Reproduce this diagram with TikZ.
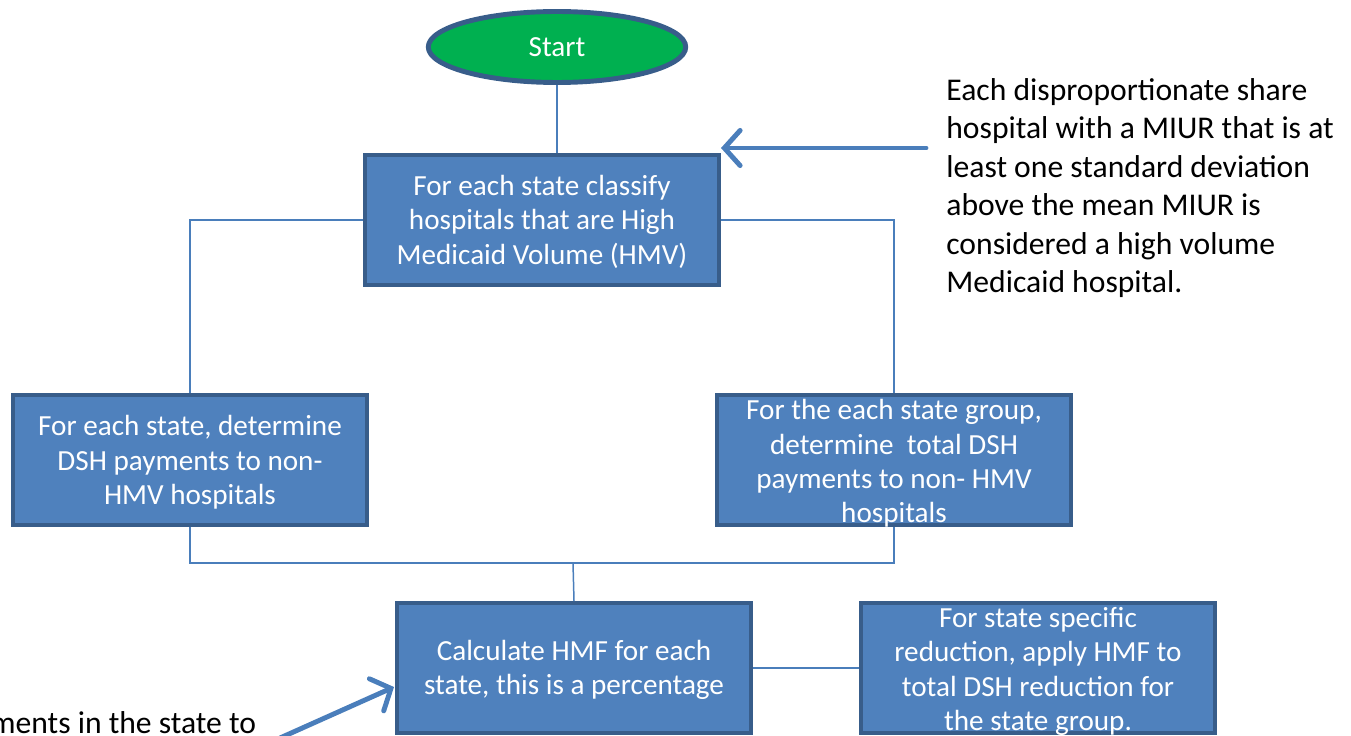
\documentclass[tikz,border=0pt]{standalone}
\usepackage{fontspec}
\setmainfont{Carlito}
\usetikzlibrary{arrows.meta,shapes.geometric}
\definecolor{boxfill}{HTML}{4F81BD}
\definecolor{boxline}{HTML}{385D8A}
\definecolor{startgreen}{HTML}{00B050}
\definecolor{conn}{HTML}{4A7EBB}
\tikzset{
  stepbox/.style={draw=boxline, line width=2.2pt, fill=boxfill, rectangle, minimum width=7.08cm, minimum height=2.6cm, inner sep=0pt},
  boxtext/.style={text=white, align=center, font=\fontsize{16.6}{19.6}\selectfont, inner sep=0pt},
  conline/.style={draw=conn, line width=0.85pt},
  bigarrow/.style={draw=conn, line width=2.8pt, line cap=round, -{Straight Barb[length=9pt, width=20pt, line cap=round]}},
  note/.style={text=black, align=left, anchor=north west, inner sep=0pt, font=\fontsize{18}{21.9}\selectfont}
}
\begin{document}
\begin{tikzpicture}[x=0.02cm, y=-0.02cm]
\useasboundingbox (0,0) rectangle (1351,736);
\begin{scope}
\clip (0,0) rectangle (1351,736);
% start
\node[ellipse, draw=boxline, line width=2.8pt, fill=startgreen, minimum width=5.15cm, minimum height=1.42cm, text=white, font=\fontsize{16.6}{19.6}\selectfont] (start) at (557,47) {Start};
% boxes
\node[stepbox] (b1) at (542,220) {};
\node[boxtext] (t1) at ([yshift=-1pt]b1.center) {For each state classify\\hospitals that are High\\Medicaid Volume (HMV)};
\node[stepbox] (b2) at (190,460) {};
\node[boxtext] (t2) at ([yshift=-1.5pt]b2.center) {For each state, determine\\DSH payments to non-\\HMV hospitals};
\node[stepbox] (b3) at (894,460) {};
\node[boxtext] (t3) at ([yshift=-2pt]b3.center) {For the each state group,\\determine\ \ total DSH\\payments to non- HMV\\hospitals};
\node[stepbox] (b4) at (574,668) {};
\node[boxtext] (t4) at ([yshift=-1pt]b4.center) {Calculate HMF for each\\state, this is a percentage};
\node[stepbox] (b5) at (1038,668) {};
\node[boxtext] (t5) at ([yshift=-2pt]b5.center) {For state specific\\reduction, apply HMF to\\total DSH reduction for\\the state group.};
% connectors
\coordinate (j) at (573,563);
\draw[conline] (start.south) -- (start.south |- b1.north);
\draw[conline] (b1.west) -| (b2.north);
\draw[conline] (b1.east) -| (b3.north);
\draw[conline] (b2.south) |- (j) -| (b3.south);
\draw[conline] (j) -- (b4.north);
\draw[conline] (b4.east) -- (b5.west);
% note
\node[note] (n1) at (946,78) {Each disproportionate share\\hospital with a MIUR that is at\\least one standard deviation\\above the mean MIUR is\\considered a high volume\\Medicaid hospital.};
\coordinate (a1s) at (926,148);
\coordinate (a1e) at (721,148);
\draw[bigarrow] (a1s) -- (a1e);
\node[note, anchor=base west] (n2) at (-10,733) {ments in the state to};
\coordinate (a2s) at (280,738);
\coordinate (a2e) at (394,687);
\draw[bigarrow] (a2s) -- (a2e);
\end{scope}
\end{tikzpicture}
\end{document}
